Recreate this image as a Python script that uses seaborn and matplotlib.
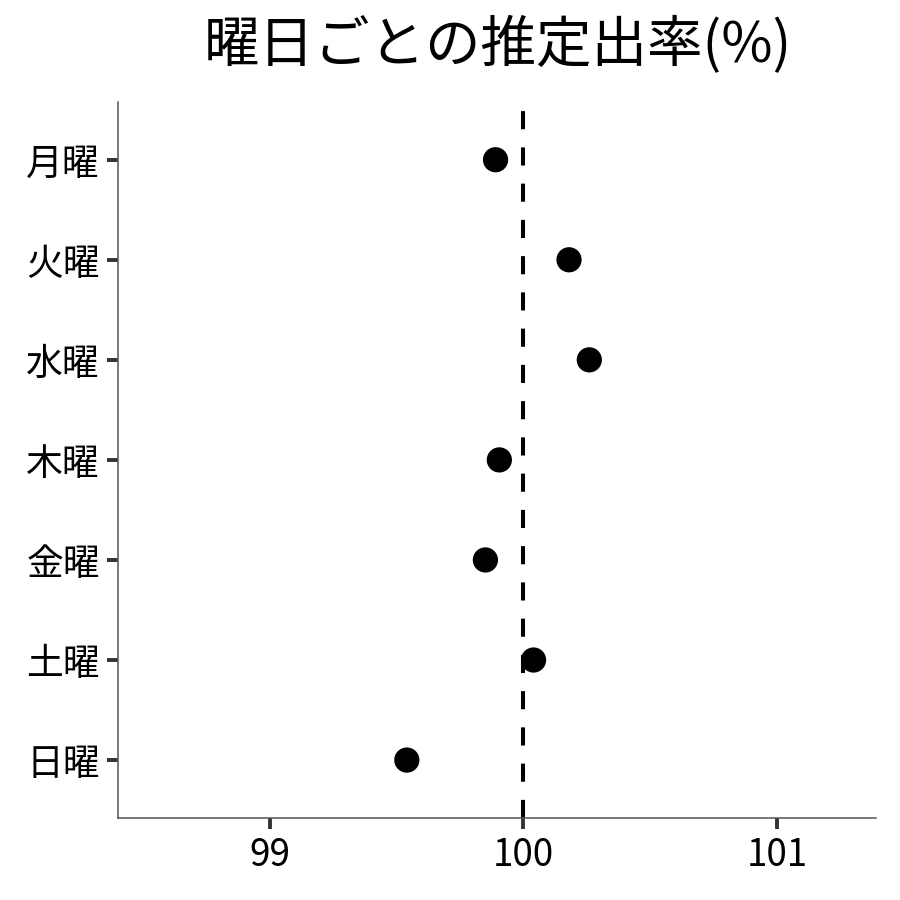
import matplotlib
matplotlib.use("Agg")
import matplotlib.pyplot as plt
import pandas as pd
import seaborn as sns

days = ["月曜", "火曜", "水曜", "木曜", "金曜", "土曜", "日曜"]
rate = [99.89, 100.18, 100.26, 99.905, 99.85, 100.04, 99.54]
x_ticks = [99, 100, 101]
baseline = 100

df = pd.DataFrame({"day": days, "rate": rate})

sns.set_theme(style="white")
plt.rcParams["font.family"] = ["Noto Sans CJK JP", "DejaVu Sans"]

fig = plt.figure(figsize=(9, 9), dpi=100)
ax = fig.add_axes([0.131, 0.091, 0.842, 0.796])

ax.axvline(baseline, color="black", lw=2.9, ls=(0, (4.5, 4.5)), zorder=1)
sns.scatterplot(data=df, x="rate", y="day", ax=ax, color="black", s=330,
                edgecolor="none", zorder=3)

ax.set_xlim(98.4, 101.39)
ax.set_ylim(6.58, -0.58)
ax.set_xticks(x_ticks)
ax.set_xticklabels([str(t) for t in x_ticks])
ax.set_xlabel("")
ax.set_ylabel("")
ax.tick_params(axis="both", labelsize=26.5, colors="#333333", length=8, width=2.8,
               labelcolor="black", pad=5, direction="out")
ax.tick_params(bottom=True, left=True)

for side in ["top", "right"]:
    ax.spines[side].set_visible(False)
for side in ["left", "bottom"]:
    ax.spines[side].set_color("#555555")
    ax.spines[side].set_linewidth(1.1)

fig.text(0.553, 0.949, "曜日ごとの推定出率(%)", ha="center", va="center",
         fontsize=40, color="black")

fig.savefig("out.png", dpi=100)
